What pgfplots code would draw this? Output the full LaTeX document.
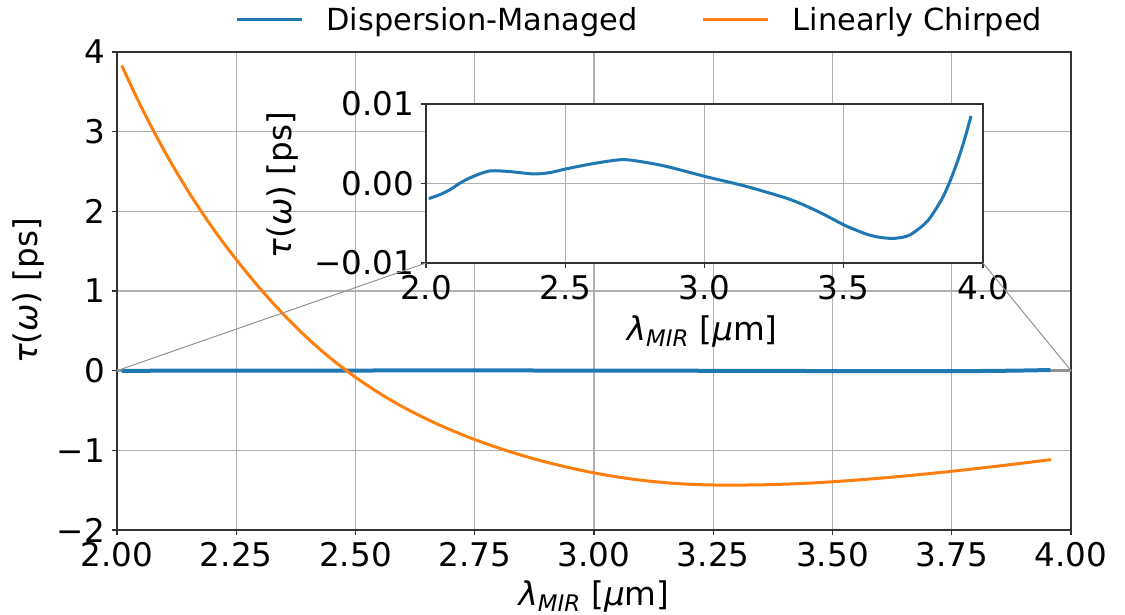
\documentclass[border=0pt]{standalone}
\usepackage{fontspec}
\setmainfont{DejaVu Sans}
\usepackage{pgfplots}
\pgfplotsset{compat=1.18}

\definecolor{tabblue}{HTML}{1F77B4}
\definecolor{taborange}{HTML}{FF7F0E}
\definecolor{gridc}{HTML}{B0B0B0}
\newcommand{\tl}{\fontsize{16.3}{19}\selectfont}

\pgfplotstableread{
x y
2.010 -0.0019
2.05 -0.0014
2.085 -0.0008
2.12 0.0000
2.154 0.00065
2.20 0.0013
2.236 0.0016
2.30 0.0015
2.388 0.0012
2.45 0.0014
2.498 0.0018
2.60 0.0025
2.704 0.0030
2.78 0.0027
2.869 0.0021
3.005 0.00086
3.143 -0.0003
3.281 -0.0017
3.343 -0.0025
3.418 -0.0037
3.50 -0.0052
3.54 -0.0058
3.58 -0.00635
3.62 -0.00672
3.666 -0.0069
3.70 -0.00683
3.74 -0.00642
3.80 -0.00475
3.85 -0.0021
3.88 0.00015
3.91 0.00295
3.935 0.0057
3.957 0.0085
}\dmdata

\pgfplotstableread{
x y
2.01 3.83
2.05 3.32
2.10 2.75
2.15 2.245
2.20 1.795
2.25 1.395
2.30 1.03
2.35 0.70
2.40 0.405
2.45 0.145
2.50 -0.0825
2.55 -0.2825
2.60 -0.4575
2.65 -0.61
2.70 -0.745
2.75 -0.865
2.80 -0.971
2.85 -1.065
2.90 -1.148
2.95 -1.2205
3.00 -1.283
3.05 -1.335
3.10 -1.376
3.15 -1.406
3.20 -1.426
3.25 -1.435
3.30 -1.436
3.35 -1.433
3.40 -1.425
3.45 -1.412
3.50 -1.3945
3.55 -1.3735
3.60 -1.3495
3.65 -1.323
3.70 -1.294
3.75 -1.263
3.80 -1.230
3.85 -1.1955
3.90 -1.1595
3.958 -1.1166
}\lcdata

\begin{document}
\begin{tikzpicture}
\begin{axis}[
  name=main, at={(0,0)}, anchor=south west,
  scale only axis, width=477pt, height=239pt,
  xmin=2, xmax=4, ymin=-2, ymax=4,
  xtick={2,2.25,2.5,2.75,3,3.25,3.5,3.75,4},
  xticklabels={2.00,2.25,2.50,2.75,3.00,3.25,3.50,3.75,4.00},
  ytick={-2,-1,0,1,2,3,4},
  yticklabels={−2,−1,0,1,2,3,4},
  grid=major, grid style={gridc, line width=0.6pt},
  axis line style={black!80, line width=0.6pt},
  tick align=outside, major tick length=2.5pt,
  tick style={black!80, line width=0.6pt},
  xtick pos=bottom, ytick pos=left,
  ticklabel style={font=\tl},
  label style={font=\tl},
  xlabel={{\itshape λ}\textsubscript{\itshape MIR} [{\itshape μ}m]},
  ylabel={{\itshape τ}({\itshape ω}) [ps]},
  xlabel style={at={(axis description cs:0.5,-0.14)}, anchor=center},
  ylabel style={at={(axis description cs:-0.093,0.5)}, anchor=center},
  legend columns=2,
  legend style={at={(axis description cs:0.1237,1.067)}, anchor=west,
    draw=none, fill=none, inner sep=0pt,
    font=\fontsize{15.2}{18}\selectfont,
    nodes={inner sep=0pt},
    /tikz/every odd column/.append style={column sep=11.5pt},
    /tikz/every even column/.append style={column sep=32pt}},
  legend cell align=left,
  legend image code/.code={\draw[#1, line width=1.5pt] (0pt,0pt) -- (32.5pt,0pt);},
]
\draw[gray!85, line width=0.8pt] (axis cs:2,-0.01) rectangle (axis cs:4,0.01);
\addplot[tabblue, line width=2pt] table[x=x,y=y] {\dmdata};
\addlegendentry{Dispersion-Managed}
\addplot[taborange, line width=1.5pt, smooth] table[x=x,y=y] {\lcdata};
\addlegendentry{Linearly Chirped}
\coordinate (A) at (axis cs:2,0);
\coordinate (B) at (axis cs:4,0);
\end{axis}

\begin{axis}[
  name=inset, at={(154.5pt,133.5pt)}, anchor=south west,
  scale only axis, width=278.5pt, height=79.5pt,
  xmin=2, xmax=4, ymin=-0.01, ymax=0.01,
  xtick={2,2.5,3,3.5,4},
  xticklabels={2.0,2.5,3.0,3.5,4.0},
  ytick={-0.01,0,0.01},
  yticklabels={−0.01,0.00,0.01},
  scaled y ticks=false,
  axis background/.style={fill=white},
  grid=major, grid style={gridc, line width=0.6pt},
  axis line style={black!80, line width=0.6pt},
  tick align=outside, major tick length=2.5pt,
  tick style={black!80, line width=0.6pt},
  xtick pos=bottom, ytick pos=left,
  ticklabel style={font=\tl},
  label style={font=\tl},
  xlabel={{\itshape λ}\textsubscript{\itshape MIR} [{\itshape μ}m]},
  ylabel={{\itshape τ}({\itshape ω}) [ps]},
  xlabel style={at={(axis description cs:0.496,-0.434)}, anchor=center},
  ylabel style={at={(axis description cs:-0.2585,0.49)}, anchor=center},
]
\addplot[tabblue, line width=1.5pt, smooth] table[x=x,y=y] {\dmdata};
\end{axis}
\draw[gray!85, line width=0.5pt] (A) -- (inset.south west);
\draw[gray!85, line width=0.5pt] (B) -- (inset.south east);
\pgfresetboundingbox
\path[use as bounding box] (-58.5pt,-42.5pt) rectangle (504pt,265pt);
\end{tikzpicture}
\end{document}
